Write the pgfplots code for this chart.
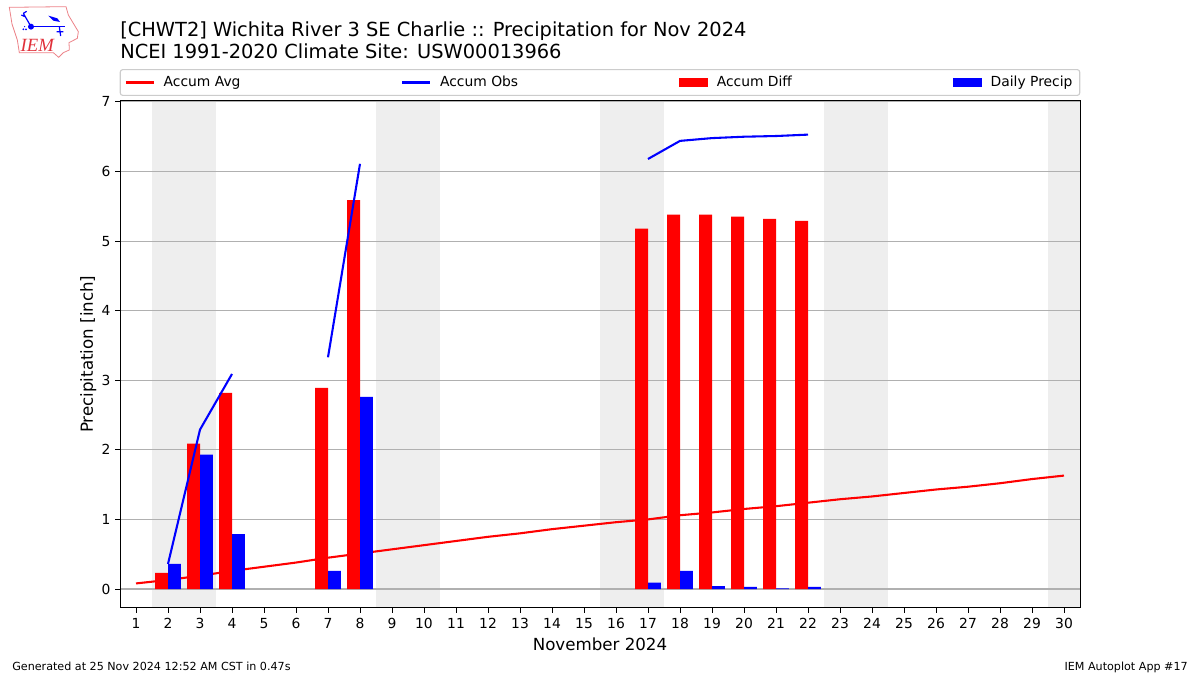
\documentclass[border=0pt]{standalone}
\usepackage{pgfplots}
\pgfplotsset{compat=1.18}
\usepackage{fontspec}
\setmainfont{DejaVu Sans}
\newfontfamily\logofont{Liberation Serif}
\definecolor{band}{HTML}{EEEEEE}
\definecolor{gridc}{HTML}{B0B0B0}
\definecolor{logored}{HTML}{E0303A}
\begin{document}
\begin{tikzpicture}
\path (0,0) rectangle (900pt,506.25pt);
\begin{axis}[
  at={(90pt,50.25pt)}, anchor=south west,
  scale only axis, width=720pt, height=380.6pt,
  set layers,
  xmin=0.5, xmax=30.5, ymin=-0.273, ymax=7.02,
  xtick={1,2,...,30}, ytick={0,1,...,7},
  xtick pos=bottom, ytick pos=left, tick align=outside,
  major tick length=3.65pt,
  tick style={black, line width=0.75pt},
  axis line style={line width=0.75pt},
  ymajorgrids, grid style={gridc, line width=0.83pt},
  tick label style={font=\fontsize{10.4}{12}\selectfont},
  xticklabel style={yshift=-0.8pt},
  /pgf/number format/assume math mode=true,
  /pgf/number format/1000 sep={},
  xlabel={November 2024},
  ylabel={Precipitation [inch]},
  label style={font=\fontsize{12.5}{15}\selectfont},
  xlabel style={at={(0.5,0)}, anchor=north, yshift=-22pt, inner sep=0pt},
  ylabel style={at={(0,0.5)}, anchor=south, yshift=17.5pt, inner sep=0pt},
  title={[CHWT2] Wichita River 3 SE Charlie :: Precipitation for Nov 2024\\NCEI 1991-2020 Climate Site: USW00013966},
  title style={at={(0,1)}, anchor=south west, align=left, inner sep=0pt, yshift=25pt,
    font=\fontsize{14.55}{16.3}\selectfont},
  legend style={at={(0.5,1)}, anchor=south, yshift=3.4pt, draw=black!20, rounded corners=2pt,
    line width=0.83pt, inner xsep=3.5pt, inner ysep=3pt, font=\fontsize{10.4}{12}\selectfont,
    /tikz/every even column/.append style={column sep=118.6pt},
    /tikz/every odd column/.append style={column sep=4.5pt}},
  legend columns=4,
  legend cell align=left,
  unbounded coords=jump,
]
% weekend bands
\addplot[on layer=axis background, fill=band, draw=none, forget plot] coordinates {(1.5,-0.273)(3.5,-0.273)(3.5,7.02)(1.5,7.02)} --cycle;
\addplot[on layer=axis background, fill=band, draw=none, forget plot] coordinates {(8.5,-0.273)(10.5,-0.273)(10.5,7.02)(8.5,7.02)} --cycle;
\addplot[on layer=axis background, fill=band, draw=none, forget plot] coordinates {(15.5,-0.273)(17.5,-0.273)(17.5,7.02)(15.5,7.02)} --cycle;
\addplot[on layer=axis background, fill=band, draw=none, forget plot] coordinates {(22.5,-0.273)(24.5,-0.273)(24.5,7.02)(22.5,7.02)} --cycle;
\addplot[on layer=axis background, fill=band, draw=none, forget plot] coordinates {(29.5,-0.273)(30.5,-0.273)(30.5,7.02)(29.5,7.02)} --cycle;
% legend entries
\addlegendimage{legend image code/.code={\draw[red, line width=1.56pt, sharp corners] (0pt,0pt) -- (21pt,0pt);}}
\addlegendentry{Accum Avg}
\addlegendimage{legend image code/.code={\draw[blue, line width=1.56pt, sharp corners] (0pt,0pt) -- (21pt,0pt);}}
\addlegendentry{Accum Obs}
\addlegendimage{legend image code/.code={\fill[red, sharp corners] (0pt,-3.3pt) rectangle (21pt,3.3pt);}}
\addlegendentry{Accum Diff}
\addlegendimage{legend image code/.code={\fill[blue, sharp corners] (0pt,-3.3pt) rectangle (21pt,3.3pt);}}
\addlegendentry{Daily Precip}
% accumulated average
\addplot[red, line width=1.56pt, forget plot] coordinates {
(1,0.08)(2,0.13)(3,0.19)(4,0.26)(5,0.32)(6,0.38)(7,0.45)(8,0.51)(9,0.57)(10,0.63)
(11,0.69)(12,0.75)(13,0.80)(14,0.86)(15,0.91)(16,0.96)(17,1.00)(18,1.06)(19,1.10)(20,1.15)
(21,1.19)(22,1.24)(23,1.29)(24,1.33)(25,1.38)(26,1.43)(27,1.47)(28,1.52)(29,1.58)(30,1.63)};
% accumulated difference
\addplot[ybar, bar width=0.4, bar shift=-0.2, fill=red, draw=none, forget plot] coordinates {
(2,0.23)(3,2.09)(4,2.82)(7,2.89)(8,5.59)(17,5.18)(18,5.38)(19,5.38)(20,5.35)(21,5.32)(22,5.29)};
% daily precipitation
\addplot[ybar, bar width=0.4, bar shift=0.2, fill=blue, draw=none, forget plot] coordinates {
(2,0.36)(3,1.93)(4,0.79)(7,0.26)(8,2.76)(17,0.09)(18,0.26)(19,0.04)(20,0.03)(21,0.01)(22,0.03)};
% accumulated observed
\addplot[blue, line width=1.56pt, forget plot] coordinates {
(2,0.36)(3,2.29)(4,3.09)(5,nan)(7,3.33)(8,6.11)(9,nan)(17,6.18)(18,6.44)(19,6.48)(20,6.50)(21,6.51)(22,6.53)};
\end{axis}
% footer
\node[anchor=base west, inner sep=0pt, font=\fontsize{8.36}{10}\selectfont] at (9pt,3.6pt) {Generated at 25 Nov 2024 12:52 AM CST in 0.47s};
\node[anchor=base east, inner sep=0pt, font=\fontsize{8.36}{10}\selectfont] at (891pt,3.6pt) {IEM Autoplot App \#17};
% logo, in reference pixels
\begin{scope}[x=0.25pt, y=-0.25pt, shift={(0pt,506.25pt)}]
\draw[logored!60, line width=0.6pt] (28,22) -- (198,20) -- (205,45) -- (220,70) -- (235,95) -- (232,115) -- (207,128) -- (208,150) -- (190,158) -- (176,172) -- (160,158) -- (58,158) -- (52,120) -- (36,72) -- cycle;
\draw[blue, line width=1.2pt] (92,80) -- (195,80);
\fill[blue] (93,80) circle [radius=9];
\draw[blue, line width=0.9pt] (92,78) -- (70,40) (70,40) -- (80,34) (64,45) -- (75,50);
\fill[blue] (145,47) -- (172,55) -- (180,66) -- (160,62) -- cycle;
\draw[blue, line width=0.9pt] (178,80) -- (182,108) (170,95) -- (190,95);
\fill[blue] (70,88) circle [radius=3] (78,88) circle [radius=3] (74,80) circle [radius=2];
\node[anchor=base, inner sep=0pt, text=logored, font=\logofont\itshape\fontsize{14}{14}\selectfont] at (112,155) {IEM};
\end{scope}
\end{tikzpicture}
\end{document}
